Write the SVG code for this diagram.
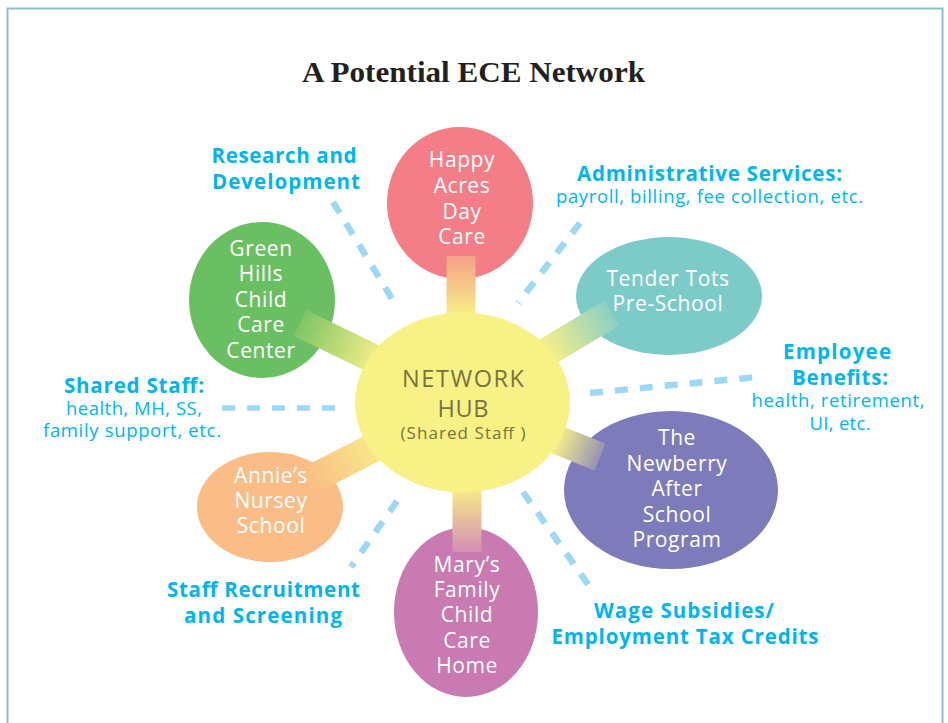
<svg xmlns="http://www.w3.org/2000/svg" width="948" height="723" viewBox="0 0 948 723">
<style>
.node-text{font-family:"Open Sans","Noto Sans",sans-serif;font-size:21px;fill:#ffffff;text-anchor:middle;letter-spacing:0.6px}
.hub-text{font-family:"Open Sans","Noto Sans",sans-serif;fill:#76743d;text-anchor:middle}
.lbl{font-family:"Open Sans","Noto Sans",sans-serif;font-size:20.5px;font-weight:bold;fill:#00b5ef;text-anchor:middle}
.sub{font-family:"Open Sans","Noto Sans",sans-serif;font-size:18.5px;fill:#00b5ef;text-anchor:middle}
.dash{stroke:#9dd8f6;stroke-width:6.5;stroke-dasharray:13 12;fill:none}
.bar{stroke-width:29;fill:none}
</style>
<defs>
<linearGradient id="gHappy" gradientUnits="userSpaceOnUse" x1="461" y1="256" x2="461" y2="314"><stop offset="0" stop-color="#f4a086"/><stop offset="1" stop-color="#f8ee88"/></linearGradient>
<linearGradient id="gGreen" gradientUnits="userSpaceOnUse" x1="300" y1="323" x2="378" y2="360"><stop offset="0" stop-color="#7fc566"/><stop offset="1" stop-color="#f5ef88"/></linearGradient>
<linearGradient id="gTender" gradientUnits="userSpaceOnUse" x1="612" y1="313" x2="548" y2="350"><stop offset="0" stop-color="#8ccfc4"/><stop offset="1" stop-color="#f4ef8a"/></linearGradient>
<linearGradient id="gNew" gradientUnits="userSpaceOnUse" x1="600" y1="457" x2="558" y2="440"><stop offset="0" stop-color="#9693b6"/><stop offset="1" stop-color="#f4ec8a"/></linearGradient>
<linearGradient id="gAnnie" gradientUnits="userSpaceOnUse" x1="310" y1="480" x2="375" y2="448"><stop offset="0" stop-color="#f9bf84"/><stop offset="1" stop-color="#f8e88a"/></linearGradient>
<linearGradient id="gMary" gradientUnits="userSpaceOnUse" x1="467" y1="552" x2="467" y2="492"><stop offset="0" stop-color="#d28fb6"/><stop offset="1" stop-color="#f6e68a"/></linearGradient>
</defs>
<rect x="7.5" y="8.5" width="935" height="740" fill="#ffffff" stroke="#8bbdc5" stroke-width="2"/>
<text x="473.5" y="82" font-family="'Liberation Serif',serif" font-weight="bold" font-size="30" fill="#231f20" text-anchor="middle" textLength="343" lengthAdjust="spacingAndGlyphs">A Potential ECE Network</text>

<g id="node-happy-acres"><ellipse cx="460" cy="203" rx="73" ry="76" fill="#f37e87"/></g>
<g id="node-green-hills"><ellipse cx="262" cy="300" rx="73" ry="78" fill="#6bbf63"/></g>
<g id="node-tender-tots"><ellipse cx="669" cy="296" rx="93" ry="59" fill="#7ccbc8"/></g>
<g id="node-newberry"><ellipse cx="671" cy="490" rx="107" ry="79" fill="#7d7bba"/></g>
<g id="node-annies"><ellipse cx="270" cy="507" rx="73" ry="55" fill="#fabd87"/></g>
<g id="node-marys"><ellipse cx="466" cy="612" rx="72" ry="85" fill="#c97ab1"/></g>

<g id="connectors">
<line class="bar" stroke="url(#gHappy)" x1="461" y1="256" x2="461" y2="402"/>
<line class="bar" stroke="url(#gGreen)" x1="300" y1="323" x2="463" y2="402"/>
<line class="bar" stroke="url(#gTender)" x1="612" y1="313" x2="463" y2="402"/>
<line class="bar" stroke="url(#gNew)" x1="600" y1="457" x2="463" y2="402"/>
<line class="bar" stroke="url(#gAnnie)" x1="310" y1="480" x2="463" y2="402"/>
<line class="bar" stroke="url(#gMary)" x1="467" y1="552" x2="467" y2="402"/>
<line class="dash" x1="333" y1="202" x2="397" y2="307"/>
<line class="dash" x1="580" y1="223" x2="518" y2="303"/>
<line class="dash" x1="590" y1="393" x2="757" y2="377"/>
<line class="dash" x1="222" y1="408" x2="338" y2="408" style="stroke-width:5.5"/>
<line class="dash" x1="397" y1="501" x2="351" y2="567"/>
<line class="dash" x1="523" y1="492" x2="592" y2="590"/>
</g>

<g id="node-hub">
<ellipse cx="462.5" cy="402.5" rx="107.5" ry="90" fill="#f8f186"/>
<text class="hub-text" x="463" y="387" font-size="23.5" textLength="122">NETWORK</text>
<text class="hub-text" x="463" y="417" font-size="23.5" textLength="51">HUB</text>
<text class="hub-text" x="463" y="439" font-size="17" textLength="125">(Shared Staff )</text>
</g>

<g id="node-text-happy"><text class="node-text" x="462" y="167">Happy</text><text class="node-text" x="462" y="193">Acres</text><text class="node-text" x="462" y="219">Day</text><text class="node-text" x="462" y="244">Care</text></g>
<g id="node-text-green"><text class="node-text" x="261" y="256">Green</text><text class="node-text" x="261" y="281">Hills</text><text class="node-text" x="261" y="307">Child</text><text class="node-text" x="261" y="332">Care</text><text class="node-text" x="261" y="358">Center</text></g>
<g id="node-text-tender"><text class="node-text" x="668" y="286">Tender Tots</text><text class="node-text" x="668" y="311">Pre-School</text></g>
<g id="node-text-newberry"><text class="node-text" x="677" y="445">The</text><text class="node-text" x="677" y="471">Newberry</text><text class="node-text" x="677" y="496">After</text><text class="node-text" x="677" y="522">School</text><text class="node-text" x="677" y="547">Program</text></g>
<g id="node-text-annies"><text class="node-text" x="271" y="483">Annie’s</text><text class="node-text" x="271" y="508">Nursey</text><text class="node-text" x="271" y="533">School</text></g>
<g id="node-text-marys"><text class="node-text" x="467" y="572">Mary’s</text><text class="node-text" x="467" y="597">Family</text><text class="node-text" x="467" y="622">Child</text><text class="node-text" x="467" y="648">Care</text><text class="node-text" x="467" y="673">Home</text></g>

<g id="label-research"><text class="lbl" x="284" y="163" textLength="145">Research and</text><text class="lbl" x="286" y="189" textLength="148">Development</text></g>
<g id="label-admin"><text class="lbl" x="709.5" y="181" textLength="265">Administrative Services:</text><text class="sub" x="709.5" y="203" textLength="307">payroll, billing, fee collection, etc.</text></g>
<g id="label-benefits"><text class="lbl" x="837" y="359" textLength="108">Employee</text><text class="lbl" x="840" y="385" textLength="96">Benefits:</text><text class="sub" x="838" y="407" textLength="173">health, retirement,</text><text class="sub" x="840" y="430" textLength="61">UI, etc.</text></g>
<g id="label-shared"><text class="lbl" x="134" y="393" textLength="140">Shared Staff:</text><text class="sub" x="134" y="415" textLength="136">health, MH, SS,</text><text class="sub" x="132" y="437" textLength="178">family support, etc.</text></g>
<g id="label-recruit"><text class="lbl" x="263.5" y="597" textLength="193">Staff Recruitment</text><text class="lbl" x="263" y="623" textLength="158">and Screening</text></g>
<g id="label-wage"><text class="lbl" x="684" y="618" textLength="180">Wage Subsidies/</text><text class="lbl" x="685" y="644" textLength="267">Employment Tax Credits</text></g>
</svg>
